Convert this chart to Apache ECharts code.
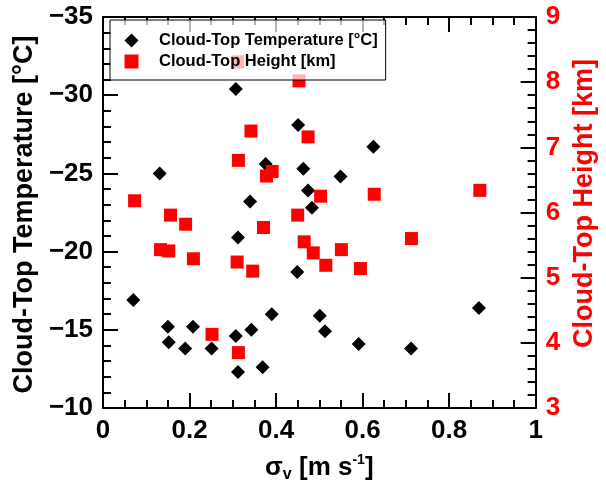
<!DOCTYPE html>
<html>
<head>
<meta charset="utf-8">
<script src="https://cdn.jsdelivr.net/npm/echarts@6/dist/echarts.min.js"></script>
<style>html,body{margin:0;padding:0;background:#fff;}#c{width:606px;height:488px;}</style>
</head>
<body>
<div id="c"></div>
<script>
// Cloud-top temperature vs sigma_v
const sigmaTemp = [0.070,0.131,0.150,0.152,0.190,0.208,0.251,0.307,0.307,0.312,0.312,0.340,0.343,0.369,0.376,0.390,0.449,0.451,0.463,0.474,0.483,0.501,0.513,0.549,0.591,0.625,0.712,0.869];
const tempValues = [-16.9,-25.0,-15.2,-14.2,-13.8,-15.2,-13.8,-14.6,-30.4,-12.3,-20.9,-23.2,-15.0,-12.6,-25.6,-16.0,-18.7,-28.1,-25.3,-23.9,-22.8,-15.9,-14.9,-24.8,-14.1,-26.7,-13.8,-16.4];
// Cloud-top height vs sigma_v
const sigmaHeight = [0.073,0.133,0.152,0.156,0.191,0.209,0.252,0.310,0.311,0.313,0.313,0.342,0.346,0.371,0.378,0.391,0.450,0.453,0.465,0.474,0.486,0.503,0.515,0.551,0.595,0.627,0.713,0.871];
const heightValues = [6.18,5.43,5.41,5.96,5.82,5.29,4.13,5.24,8.31,6.80,3.85,7.25,5.10,5.77,6.56,6.63,5.96,8.02,5.55,7.16,5.38,6.25,5.19,5.43,5.14,6.28,5.60,6.34];
// Axis ticks
const xTicks = [0,0.2,0.4,0.6,0.8,1];
const tempTicks = [-35,-30,-25,-20,-15,-10];
const heightTicks = [3,4,5,6,7,8,9];

const FONT = 'Liberation Sans, Arial, Helvetica, sans-serif';
const RED = '#ff0000';

function axisBase(color){
  return {
    axisLine:{show:true,onZero:false,lineStyle:{color:'#000',width:2}},
    axisTick:{show:true,inside:true,length:15,lineStyle:{color:'#000',width:2}},
    splitLine:{show:false},
    axisLabel:{color:color,fontFamily:FONT,fontWeight:'bold',fontSize:26,margin:10}
  };
}

const chart = echarts.init(document.getElementById('c'),null,{renderer:'canvas'});
const xb = axisBase('#000');
const xt = axisBase('#000');
xt.axisLabel = {show:false};
const yl = axisBase('#000');
yl.axisLabel.formatter = v => String(v).replace('-', '\u2212');
const yr = axisBase(RED);

chart.setOption({
  animation:false,
  backgroundColor:'#fff',
  grid:{left:103,right:68,top:17,bottom:80,containLabel:false},
  legend:{
    orient:'vertical',left:110,top:20,
    padding:[12,8,10,14.5],
    itemWidth:14,itemHeight:14,itemGap:4,
    borderColor:'#000',borderWidth:1,
    backgroundColor:'rgba(255,255,255,0.7)',
    textStyle:{fontFamily:FONT,fontWeight:'bold',fontSize:16.5,color:'#000',lineHeight:16,padding:[0,0,0,15.5]},
    data:['Cloud-Top Temperature [°C]','Cloud-Top Height [km]']
  },
  xAxis:[
    Object.assign({type:'value',position:'bottom',min:xTicks[0],max:xTicks[xTicks.length-1],interval:xTicks[1]-xTicks[0],
      minorTick:{show:true,splitNumber:4,length:8,lineStyle:{color:'#000',width:2}},
      name:'σ{sub|v} [m s{sup|-1}]',nameLocation:'middle',nameGap:45,
      nameTextStyle:{fontFamily:FONT,fontWeight:'bold',fontSize:26,color:'#000',
        rich:{sub:{fontFamily:FONT,fontWeight:'bold',fontSize:16,verticalAlign:'bottom',padding:[14,0,0,0]},
              sup:{fontFamily:FONT,fontWeight:'bold',fontSize:14,verticalAlign:'top',padding:[0,0,10,0]}}}
    }, {axisLine:xb.axisLine,axisTick:xb.axisTick,splitLine:xb.splitLine,axisLabel:xb.axisLabel}),
    Object.assign({type:'value',position:'top',min:xTicks[0],max:xTicks[xTicks.length-1],interval:xTicks[1]-xTicks[0],
      minorTick:{show:true,splitNumber:4,length:8,lineStyle:{color:'#000',width:2}}
    }, {axisLine:xt.axisLine,axisTick:xt.axisTick,splitLine:xt.splitLine,axisLabel:xt.axisLabel})
  ],
  yAxis:[
    Object.assign({type:'value',position:'left',inverse:true,min:tempTicks[0],max:tempTicks[tempTicks.length-1],interval:tempTicks[1]-tempTicks[0],
      minorTick:{show:true,splitNumber:5,length:8,lineStyle:{color:'#000',width:2}},
      name:'Cloud-Top Temperature [°C]',nameLocation:'middle',nameRotate:90,nameGap:57,
      nameTextStyle:{fontFamily:FONT,fontWeight:'bold',fontSize:27,color:'#000',padding:[0,4,0,0]}
    }, {axisLine:yl.axisLine,axisTick:yl.axisTick,splitLine:yl.splitLine,axisLabel:yl.axisLabel}),
    Object.assign({type:'value',position:'right',min:heightTicks[0],max:heightTicks[heightTicks.length-1],interval:heightTicks[1]-heightTicks[0],
      minorTick:{show:true,splitNumber:5,length:8,lineStyle:{color:'#000',width:2}},
      name:'Cloud-Top Height [km]',nameLocation:'middle',nameRotate:90,nameGap:30,
      nameTextStyle:{fontFamily:FONT,fontWeight:'bold',fontSize:27,color:RED,padding:[0,0,0,18]}
    }, {axisLine:yr.axisLine,axisTick:yr.axisTick,splitLine:yr.splitLine,axisLabel:yr.axisLabel})
  ],
  series:[
    {name:'Cloud-Top Temperature [°C]',type:'scatter',xAxisIndex:0,yAxisIndex:0,symbol:'diamond',symbolSize:14,
      itemStyle:{color:'#000',opacity:1},z:2,
      data:sigmaTemp.map((x,i)=>[x,tempValues[i]])},
    {name:'Cloud-Top Height [km]',type:'scatter',xAxisIndex:0,yAxisIndex:1,symbol:'rect',symbolSize:13,
      itemStyle:{color:RED,opacity:1},z:3,
      data:sigmaHeight.map((x,i)=>[x,heightValues[i]])}
  ]
});
</script>
</body>
</html>
